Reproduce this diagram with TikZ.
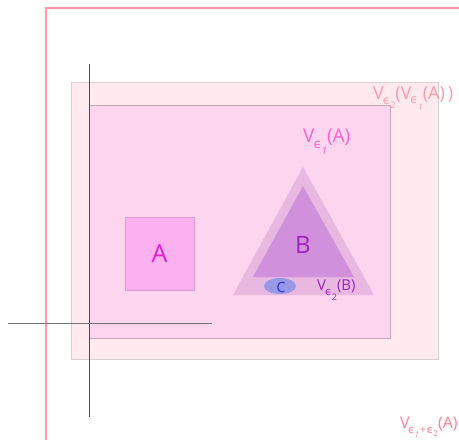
\documentclass[tikz,border=0pt]{standalone}
\usepackage{fontspec}
\setmainfont{Open Sans}
\newfontfamily\gk{DejaVu Sans}
\usetikzlibrary{shapes.geometric}
\newcommand\lsub[3]{\raisebox{-#1pt}{\fontsize{#2}{#2}\selectfont #3}}
\newcommand\ep{{\gk ϵ}}
\begin{document}
\begin{tikzpicture}[x=1pt,y=-1pt]
\definecolor{outerpink}{HTML}{FF9AA8}
\definecolor{lightfill}{HTML}{FFEBEF}
\definecolor{lightborder}{HTML}{D8D0D0}
\definecolor{midfill}{HTML}{FDD5EF}
\definecolor{midborder}{HTML}{C8A8B8}
\definecolor{afill}{HTML}{FCB0F0}
\definecolor{aborder}{HTML}{D8A0C8}
\definecolor{atext}{HTML}{E020D0}
\definecolor{outtri}{HTML}{E8B8E0}
\definecolor{intri}{HTML}{D090DC}
\definecolor{btext}{HTML}{A020C0}
\definecolor{cfill}{HTML}{9898E8}
\definecolor{ctext}{HTML}{2030C0}
\definecolor{veone}{HTML}{FF60D0}
\definecolor{vetwo}{HTML}{FF9AA8}
\definecolor{vsum}{HTML}{FF8090}
\tikzset{
  lbl/.style={inner sep=0pt, anchor=base west},
  axisline/.style={line width=1.1pt}
}
\useasboundingbox (0,0) rectangle (459,440);
% outer neighbourhood
\draw[outerpink, line width=1.1pt] (46,440) -- (46,8) -- (459,8);
% V_e2(V_e1(A))
\draw[lightborder, fill=lightfill, line width=1pt] (71,82) rectangle (438,359);
% V_e1(A)
\draw[midborder, fill=midfill, line width=0.9pt] (89,105) rectangle (390,338);
% square A
\node[draw=aborder, fill=afill, line width=0.9pt, minimum width=69pt, minimum height=73pt, inner sep=0pt, font=\fontsize{25}{27}\selectfont, text=atext] (A) at (159.5,253.5) {A};
% triangles
\path[fill=outtri] (303,167) -- (374,295) -- (233,295) -- cycle;
\path[fill=intri] (303,186) -- (354,277) -- (253,277) -- cycle;
\node[font=\fontsize{24}{26}\selectfont, text=btext, inner sep=0pt] (B) at (303,245) {B};
% ellipse C
\node[ellipse, fill=cfill, minimum width=32pt, minimum height=16pt, inner sep=0pt] (C) at (280,286) {};
\node[font=\fontsize{14}{16}\selectfont, text=ctext, inner sep=0pt] (Clbl) at (281,287) {C};
% labels
\node[lbl, text=btext, font=\fontsize{15}{17}\selectfont] (VB) at (317,290)
  {V\kern-1pt\lsub{5}{11}{\ep\lsub{5}{9}{2}}(B)};
\node[lbl, text=veone, font=\fontsize{19}{21}\selectfont] (VA) at (303,142)
  {V\kern-1pt\lsub{6}{13}{\ep\lsub{6}{10}{\itshape 1}}(A)};
\node[lbl, text=vetwo, font=\fontsize{18}{20}\selectfont] (VVA) at (373,99)
  {V\kern-1pt\lsub{5}{12}{\ep\lsub{4}{9}{2}}(V\kern-1pt\lsub{4}{12}{\ep\lsub{7}{9}{\itshape 1}}(A)\,)};
\node[lbl, text=vsum, font=\fontsize{16}{18}\selectfont] (VS) at (400,428)
  {V\kern-1.5pt\lsub{5}{11}{\ep\kern-0.3pt\lsub{4}{8}{\itshape 1}\kern0.8pt+\kern0.8pt\ep\kern-0.3pt\lsub{3}{8}{2}}(A)};
% axes
\coordinate (vt) at (89.5,64);
\coordinate (vb) at (89.5,417);
\coordinate (hl) at (8,323.5);
\coordinate (hr) at (212,323.5);
\draw[axisline, draw=black!70] (vt) -- (vb);
\draw[axisline, draw=black!55] (hl) -- (hr);
\end{tikzpicture}
\end{document}
